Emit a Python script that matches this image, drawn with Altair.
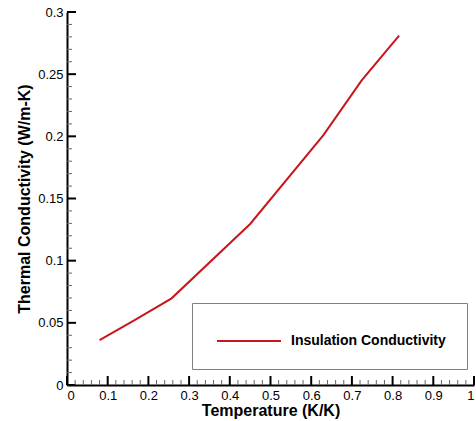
import altair as alt
import pandas as pd

# data
temperature = [0.08, 0.163, 0.257, 0.45, 0.63, 0.724, 0.816]
conductivity = [0.036, 0.0515, 0.0697, 0.1295, 0.201, 0.245, 0.281]
series_name = "Insulation Conductivity"

x_major = [0.0, 0.1, 0.2, 0.3, 0.4, 0.5, 0.6, 0.7, 0.8, 0.9, 1.0]
y_major = [0.0, 0.05, 0.1, 0.15, 0.2, 0.25, 0.3]
x_minor = [round(i * 0.02, 2) for i in range(51) if i % 5 != 0]
y_minor = [round(i * 0.01, 2) for i in range(31) if i % 5 != 0]

W, H = 407, 373
FONT = "Liberation Sans"
RED = "#c8161c"

df = pd.DataFrame({"t": temperature, "k": conductivity, "s": series_name})
xs = alt.Scale(domain=[0, 1], nice=False, zero=False)
ys = alt.Scale(domain=[0, 0.3], nice=False, zero=False)
x_axis = alt.Axis(title="Temperature (K/K)", values=x_major, format="~g",
                  labelPadding=4, titlePadding=0)
y_axis = alt.Axis(title="Thermal Conductivity (W/m-K)", values=y_major, format="~g",
                  labelPadding=4, titlePadding=5)

line = alt.Chart(df).mark_line(strokeWidth=2, clip=True).encode(
    x=alt.X("t:Q", scale=xs, axis=x_axis),
    y=alt.Y("k:Q", scale=ys, axis=y_axis),
    color=alt.Color("s:N", scale=alt.Scale(domain=[series_name], range=[RED]),
                    legend=alt.Legend(
                        title=None, orient="none", legendX=125, legendY=291,
                        strokeColor="#808080", fillColor="white", padding=21,
                        symbolType="M-2,0H2", symbolSize=1024, symbolStrokeWidth=2,
                        symbolOffset=19, labelOffset=25,
                        labelFont=FONT, labelFontWeight="bold", labelFontSize=14,
                        labelColor="black")),
)

def ticks_y(vals, color, width, length):
    return alt.Chart(pd.DataFrame({"k": vals})).mark_rule(color=color, strokeWidth=width).encode(
        y=alt.Y("k:Q", scale=ys, axis=y_axis), x=alt.value(0), x2=alt.value(length))

def ticks_x(vals, color, width, length):
    return alt.Chart(pd.DataFrame({"t": vals})).mark_rule(color=color, strokeWidth=width).encode(
        x=alt.X("t:Q", scale=xs, axis=x_axis), y=alt.value(H), y2=alt.value(H - length))

chart = alt.layer(
    line,
    ticks_y(y_major, "black", 2, 9), ticks_y(y_minor, "#666666", 1, 5),
    ticks_x(x_major, "black", 2, 9), ticks_x(x_minor, "#666666", 1, 5),
).properties(
    width=W, height=H,
    background="white",
    autosize=alt.AutoSizeParams(type="none"),
    padding={"left": 67, "top": 12, "right": 2, "bottom": 36},
).configure_view(strokeWidth=0).configure_axis(
    grid=False, ticks=False, domainColor="black", domainWidth=2,
    labelFont=FONT, labelFontSize=13, labelColor="black",
    titleFont=FONT, titleFontSize=16, titleFontWeight="bold", titleColor="black",
)

chart.save("out.html", embed_options={"renderer": "svg", "actions": False})
